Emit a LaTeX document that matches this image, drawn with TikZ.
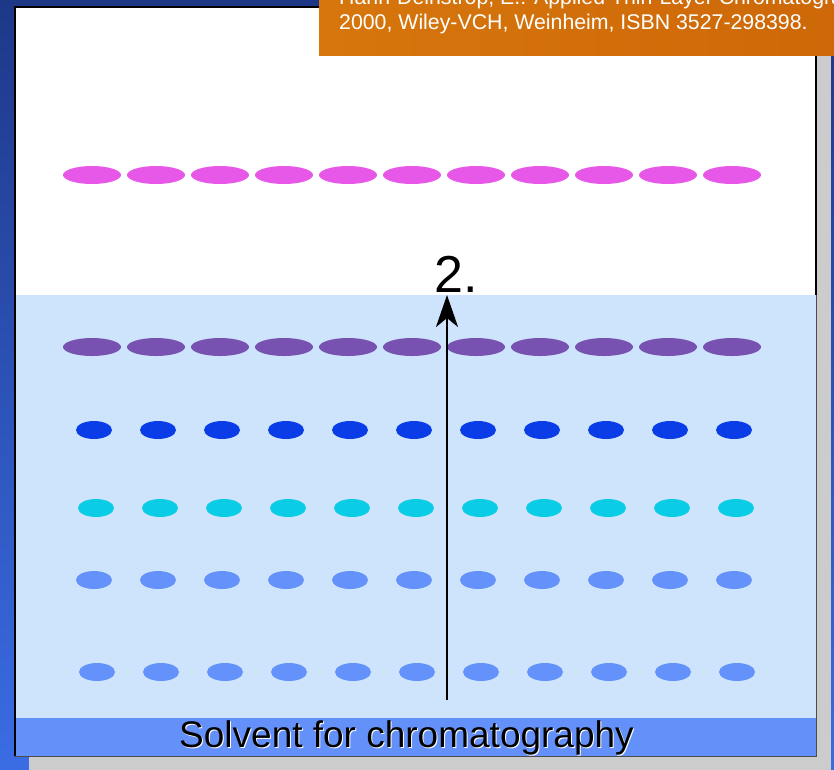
\documentclass[tikz,border=0pt]{standalone}
\usepackage{fontspec}
\setmainfont{Liberation Sans}
\setsansfont{Liberation Sans}
\usepackage{tikz}
\usetikzlibrary{positioning, calc, shapes.geometric, arrows.meta}

\definecolor{slidetop}{RGB}{30,56,136}
\definecolor{slidebottom}{RGB}{58,108,228}
\definecolor{shadowgray}{RGB}{204,204,204}
\definecolor{wetblue}{RGB}{206,228,253}
\definecolor{solventblue}{RGB}{100,144,250}
\definecolor{spotpink}{RGB}{232,88,232}
\definecolor{spotviolet}{RGB}{119,82,176}
\definecolor{spotblue}{RGB}{10,61,232}
\definecolor{spotcyan}{RGB}{10,204,230}
\definecolor{spotsky}{RGB}{100,146,250}
\definecolor{refleft}{RGB}{214,118,12}
\definecolor{refright}{RGB}{206,104,8}

\begin{document}
\begin{tikzpicture}[x=1pt, y=-1pt, every node/.style={font=\sffamily},
    spot/.style={ellipse, inner sep=0pt, minimum height=18pt},
    runarrow/.style={line width=2.6pt, -{Stealth[length=32pt, width=22pt, inset=9pt]}}]
    \useasboundingbox (0,0) rectangle (834,769);

    % slide and plate shadow
    \shade[top color=slidetop, bottom color=slidebottom] (0,0) rectangle (834,769);
    \fill[shadowgray] (29,21) rectangle (831,775);

    % plate, wetted part and solvent
    \fill[white] (15,7) rectangle (816,756);
    \fill[wetblue] (15,295) rectangle (816,756);
    \fill[solventblue] (15,718) rectangle (816,756);
    \draw[line width=2.2pt] (15,756) -- (15,7) -- (816,7) -- (816,295);
    \draw[black!70, line width=0.9pt] (816,295) -- (816,756) -- (15,756);

    \foreach \row/\ys/\xs/\w/\col in {1/175/92/58/spotpink, 2/347/92/58/spotviolet,
        3/430/94/36/spotblue, 4/508/96/36/spotcyan, 5/580/94/36/spotsky, 6/672/97/36/spotsky} {
        \foreach \i in {0,...,10} {
            \node[spot, fill=\col, minimum width=\w pt] (s\row-\i) at ({\xs+64*\i}, \ys) {};
        }
    }

    \coordinate (front) at (447,295);
    \coordinate (start) at (447,700);
    \draw[runarrow] (start) -- (front);
    \node[anchor=base, font=\sffamily\fontsize{52}{60}\selectfont] (step) at (456,292) {2.};

    \node[anchor=base, white, font=\sffamily\fontsize{37}{44}\selectfont] (solventshade) at (407.5,748) {Solvent for chromatography};
    \node[anchor=base, font=\sffamily\fontsize{37}{44}\selectfont] (solvent) at (406.5,747) {Solvent for chromatography};

    % reference banner
    \shade[left color=refleft, right color=refright] (319,-2) rectangle (836,55);
    \node[anchor=base west, align=left, inner sep=0pt, white, font=\sffamily\fontsize{21.3}{24.5}\selectfont] (ref) at (339,29)
        {Hahn-Deinstrop, E.: Applied Thin-Layer Chromatography,\\2000, Wiley-VCH, Weinheim, ISBN 3527-298398.};
\end{tikzpicture}
\end{document}
